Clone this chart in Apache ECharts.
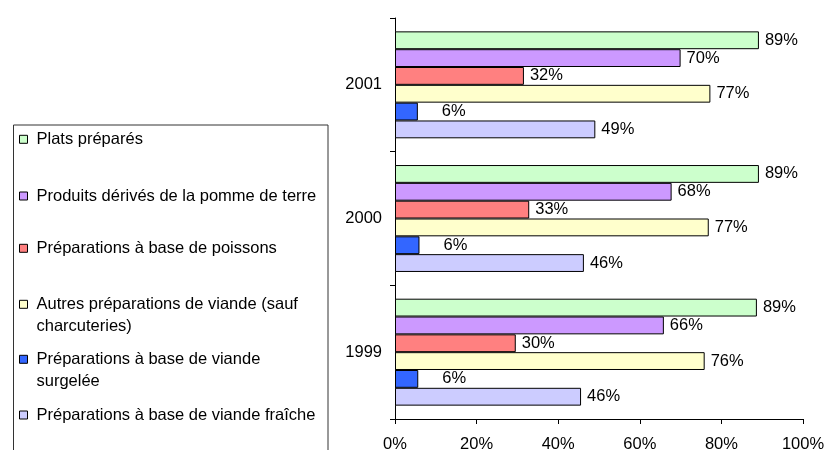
<!DOCTYPE html>
<html>
<head>
<meta charset="utf-8">
<script src="https://cdn.jsdelivr.net/npm/echarts@6/dist/echarts.min.js"></script>
<style>html,body{margin:0;padding:0;background:#fff}#c{width:825px;height:450px}</style>
</head>
<body>
<div id="c"></div>
<script>
// Data
const years = ['1999', '2000', '2001'];
const seriesNames = [
  'Plats préparés',
  'Produits dérivés de la pomme de terre',
  'Préparations à base de poissons',
  'Autres préparations de viande (sauf charcuteries)',
  'Préparations à base de viande surgelée',
  'Préparations à base de viande fraîche'
];
const legendLabels = [
  'Plats préparés',
  'Produits dérivés de la pomme de terre',
  'Préparations à base de poissons',
  '\nAutres préparations de viande (sauf\ncharcuteries)',
  '\nPréparations à base de viande\nsurgelée',
  'Préparations à base de viande fraîche'
];
const platsPrepares = [88.7, 89.2, 89.2];
const pommeDeTerre = [65.9, 67.8, 70.0];
const poissons = [29.6, 32.9, 31.6];
const autresViande = [75.9, 76.9, 77.3];
const viandeSurgelee = [5.7, 6.0, 5.6];
const viandeFraiche = [45.6, 46.3, 49.1];
const xTicks = [0, 20, 40, 60, 80, 100];

const values = [platsPrepares, pommeDeTerre, poissons, autresViande, viandeSurgelee, viandeFraiche];
const colors = ['#CCFFCC', '#CC99FF', '#FF8080', '#FFFFCC', '#3366FF', '#CCCCFF'];
const labelDist = [6, 6, 6, 6, 24, 6];
const legendCenters = [139.3, 196, 248.3, 304.3, 359.3, 415];
const LH = 22;
const FONT = 'Liberation Sans';
const FS = 16.5;

const chart = echarts.init(document.getElementById('c'), null, {renderer: 'canvas'});

const series = seriesNames.map((n, i) => ({
  name: n,
  type: 'bar',
  data: values[i],
  barGap: '0%',
  barCategoryGap: '20%',
  itemStyle: {color: colors[i], borderColor: '#000', borderWidth: 1},
  label: {
    show: true, position: 'right', distance: labelDist[i],
    color: '#000', fontSize: FS, fontFamily: FONT,
    formatter: p => Math.round(p.value) + '%'
  },
  emphasis: {disabled: true},
  animation: false
}));

const legends = seriesNames.map((n, i) => {
  const twoLine = legendLabels[i].startsWith('\n');
  return {
    data: [n],
    left: 19,
    top: legendCenters[i] - (twoLine ? 1.5 * LH : 0.5 * LH),
    orient: 'vertical',
    padding: 0,
    itemWidth: 8,
    itemHeight: 8,
    itemGap: 0,
    selectedMode: false,
    icon: 'rect',
    itemStyle: {borderColor: '#000', borderWidth: 1},
    textStyle: {color: '#000', fontSize: FS, fontFamily: FONT, lineHeight: LH, padding: [0, 0, 0, 4]},
    formatter: () => legendLabels[i]
  };
});

chart.setOption({
  animation: false,
  grid: {left: 395, right: 22, top: 18, bottom: 31, containLabel: false, outerBoundsMode: 'none'},
  xAxis: {
    type: 'value', min: xTicks[0], max: xTicks[xTicks.length - 1], interval: xTicks[1] - xTicks[0],
    axisLine: {show: true, lineStyle: {color: '#000', width: 1}},
    axisTick: {show: true, length: 5, lineStyle: {color: '#000'}},
    splitLine: {show: false},
    axisLabel: {color: '#000', fontSize: FS, fontFamily: FONT, margin: 17, formatter: '{value}%'}
  },
  yAxis: {
    type: 'category', data: years,
    axisLine: {show: true, lineStyle: {color: '#000', width: 1}},
    axisTick: {show: true, length: 5, lineStyle: {color: '#000'}},
    axisLabel: {color: '#000', fontSize: FS, fontFamily: FONT, margin: 13}
  },
  legend: legends,
  graphic: [{
    type: 'rect', left: 11, top: 122.5, silent: true,
    shape: {width: 314.5, height: 340},
    style: {fill: 'none', stroke: '#333', lineWidth: 1}
  }],
  series: series
});
</script>
</body>
</html>
